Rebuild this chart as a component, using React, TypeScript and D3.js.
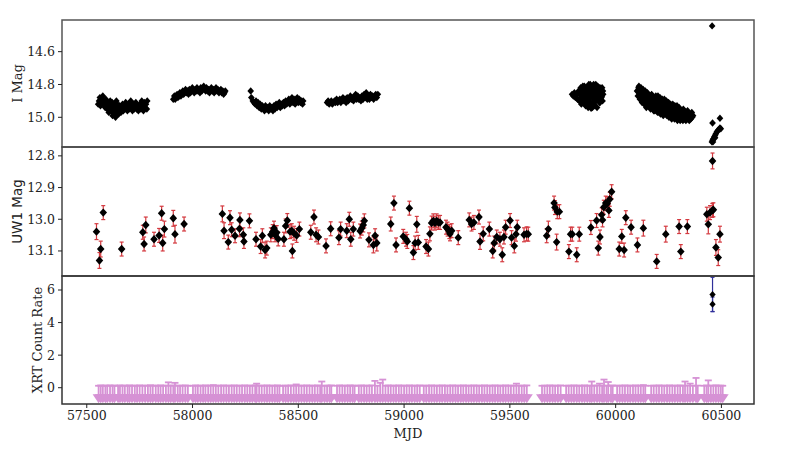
import React from "react";
import * as d3 from "d3";

// ---------- DATA ----------
// I-band photometry [MJD, mag]
const iSeason1: [number, number][] = [
  [57554, 14.92], [57558, 14.90], [57562, 14.88], [57565, 14.93], [57569, 14.89], [57572, 14.91], [57576, 14.87],
  [57580, 14.92], [57583, 14.90], [57587, 14.94], [57590, 14.89], [57594, 14.92], [57597, 14.95], [57601, 14.91],
  [57604, 14.97], [57608, 14.93], [57611, 14.90], [57615, 14.96], [57618, 14.94], [57622, 14.99], [57626, 14.92],
  [57629, 14.95], [57633, 14.97], [57636, 15.00], [57640, 14.94], [57644, 14.92], [57647, 14.96], [57651, 14.98],
  [57655, 14.93], [57658, 14.95], [57662, 14.97], [57666, 14.94], [57669, 14.92], [57673, 14.96], [57677, 14.93],
  [57680, 14.95], [57684, 14.91], [57688, 14.94], [57692, 14.96], [57696, 14.92], [57700, 14.95], [57704, 14.93],
  [57708, 14.90], [57712, 14.94], [57716, 14.96], [57720, 14.92], [57724, 14.95], [57728, 14.93], [57732, 14.91],
  [57736, 14.95], [57740, 14.93], [57744, 14.96], [57748, 14.94], [57752, 14.92], [57756, 14.95], [57760, 14.90],
  [57764, 14.93], [57768, 14.96], [57772, 14.91], [57776, 14.94], [57780, 14.92], [57784, 14.95], [57786, 14.90],
  [57600, 14.93], [57612, 14.95], [57620, 14.96], [57630, 14.93], [57638, 14.96], [57645, 14.98], [57650, 14.95],
  [57660, 14.96], [57670, 14.95], [57690, 14.95], [57715, 14.94], [57730, 14.94], [57745, 14.94], [57575, 14.90],
  [57565, 14.91], [57620, 14.91], [57640, 14.90], [57625, 14.97], [57655, 14.97], [57605, 14.95],
];
const iSeason2: [number, number][] = [
  [57909, 14.89], [57914, 14.87], [57918, 14.89], [57922, 14.88], [57927, 14.86], [57931, 14.88], [57936, 14.87],
  [57940, 14.85], [57945, 14.87], [57949, 14.86], [57954, 14.84], [57958, 14.86], [57963, 14.85], [57967, 14.83],
  [57972, 14.85], [57976, 14.84], [57981, 14.86], [57985, 14.83], [57990, 14.85], [57994, 14.84], [57999, 14.82],
  [58003, 14.84], [58008, 14.85], [58012, 14.83], [58017, 14.84], [58021, 14.82], [58026, 14.84], [58030, 14.83],
  [58035, 14.85], [58039, 14.82], [58044, 14.84], [58048, 14.83], [58053, 14.81], [58057, 14.83], [58062, 14.84],
  [58066, 14.82], [58071, 14.84], [58075, 14.83], [58080, 14.85], [58084, 14.83], [58089, 14.82], [58093, 14.84],
  [58098, 14.83], [58102, 14.85], [58107, 14.84], [58111, 14.82], [58116, 14.84], [58120, 14.83], [58125, 14.85],
  [58129, 14.84], [58134, 14.83], [58138, 14.85], [58143, 14.84], [58147, 14.86], [58151, 14.85], [58155, 14.84],
];
const iSeason3: [number, number][] = [
  [58275, 14.84], [58278, 14.88], [58285, 14.90], [58290, 14.91], [58296, 14.92], [58300, 14.90], [58305, 14.93],
  [58310, 14.91], [58315, 14.94], [58320, 14.92], [58325, 14.95], [58330, 14.93], [58335, 14.94], [58340, 14.96],
  [58345, 14.93], [58350, 14.95], [58355, 14.94], [58360, 14.96], [58365, 14.93], [58370, 14.95], [58375, 14.94],
  [58380, 14.96], [58385, 14.93], [58390, 14.95], [58395, 14.92], [58400, 14.94], [58405, 14.93], [58410, 14.91],
  [58415, 14.94], [58420, 14.92], [58425, 14.93], [58430, 14.91], [58435, 14.93], [58440, 14.90], [58445, 14.92],
  [58450, 14.91], [58455, 14.89], [58460, 14.92], [58465, 14.90], [58470, 14.88], [58475, 14.91], [58480, 14.89],
  [58485, 14.92], [58490, 14.90], [58495, 14.88], [58500, 14.91], [58505, 14.89], [58510, 14.91], [58515, 14.90],
  [58520, 14.92], [58523, 14.90],
];
const iSeason4: [number, number][] = [
  [58636, 14.91], [58641, 14.90], [58646, 14.92], [58651, 14.91], [58656, 14.90], [58661, 14.92], [58666, 14.91],
  [58671, 14.90], [58676, 14.91], [58681, 14.89], [58686, 14.91], [58691, 14.90], [58696, 14.89], [58701, 14.91],
  [58706, 14.90], [58711, 14.88], [58716, 14.90], [58721, 14.89], [58726, 14.91], [58731, 14.88], [58736, 14.90],
  [58741, 14.89], [58746, 14.87], [58751, 14.89], [58756, 14.88], [58761, 14.90], [58766, 14.88], [58771, 14.86],
  [58776, 14.89], [58781, 14.87], [58786, 14.89], [58791, 14.88], [58796, 14.90], [58801, 14.87], [58806, 14.89],
  [58811, 14.86], [58816, 14.88], [58821, 14.85], [58826, 14.89], [58831, 14.87], [58836, 14.89], [58841, 14.86],
  [58846, 14.88], [58851, 14.87], [58856, 14.89], [58861, 14.88], [58866, 14.86], [58871, 14.88], [58876, 14.86],
];
const iSeason5: [number, number][] = [
  [59794, 14.86], [59800, 14.87], [59805, 14.85], [59810, 14.88], [59815, 14.86], [59820, 14.89], [59825, 14.84],
  [59828, 14.90], [59832, 14.86], [59835, 14.82], [59838, 14.92], [59842, 14.88], [59845, 14.84], [59848, 14.91],
  [59852, 14.81], [59855, 14.87], [59858, 14.93], [59861, 14.85], [59864, 14.89], [59867, 14.82], [59870, 14.94],
  [59873, 14.80], [59876, 14.87], [59879, 14.91], [59882, 14.84], [59885, 14.93], [59888, 14.81], [59891, 14.88],
  [59894, 14.86], [59897, 14.92], [59900, 14.83], [59903, 14.90], [59906, 14.80], [59909, 14.87], [59912, 14.94],
  [59915, 14.85], [59918, 14.89], [59921, 14.82], [59924, 14.91], [59927, 14.86], [59930, 14.84], [59933, 14.88],
  [59936, 14.82], [59938, 14.90], [59941, 14.86], [59884, 14.945], [59860, 14.83], [59896, 14.80],
  [59830, 14.84], [59836, 14.87], [59842, 14.83], [59848, 14.86], [59854, 14.89], [59858, 14.84], [59863, 14.87],
  [59869, 14.90], [59872, 14.85], [59878, 14.83], [59881, 14.88], [59886, 14.86], [59890, 14.91], [59893, 14.83],
  [59898, 14.88], [59902, 14.85], [59907, 14.90], [59910, 14.83], [59914, 14.88], [59919, 14.85], [59923, 14.87],
  [59926, 14.82], [59929, 14.89], [59932, 14.85], [59935, 14.87], [59940, 14.84], [59866, 14.92], [59876, 14.93],
  [59890, 14.94], [59902, 14.93], [59850, 14.90], [59845, 14.81], [59880, 14.80], [59915, 14.81], [59926, 14.91],
];
const iSeason6: [number, number][] = [
  [60101, 14.84], [60105, 14.87], [60108, 14.82], [60110, 14.81], [60112, 14.85], [60115, 14.89], [60118, 14.83],
  [60122, 14.87], [60125, 14.91], [60128, 14.85], [60132, 14.88], [60135, 14.92], [60138, 14.86], [60142, 14.90],
  [60145, 14.94], [60148, 14.87], [60150, 14.85], [60152, 14.91], [60155, 14.88], [60158, 14.93], [60162, 14.89],
  [60165, 14.95], [60168, 14.87], [60170, 14.86], [60172, 14.92], [60175, 14.90], [60178, 14.94], [60182, 14.88],
  [60185, 14.96], [60188, 14.91], [60190, 14.87], [60192, 14.93], [60195, 14.89], [60198, 14.97], [60202, 14.92],
  [60205, 14.95], [60208, 14.90], [60210, 14.88], [60212, 14.98], [60215, 14.93], [60218, 14.96], [60222, 14.91],
  [60225, 14.99], [60228, 14.94], [60230, 14.89], [60232, 14.97], [60235, 14.92], [60238, 14.95], [60242, 14.99],
  [60245, 14.93], [60248, 14.97], [60250, 14.91], [60252, 15.00], [60255, 14.94], [60258, 14.98], [60262, 14.95],
  [60265, 15.01], [60268, 14.96], [60270, 14.92], [60272, 14.99], [60275, 14.95], [60278, 15.01], [60282, 14.97],
  [60285, 15.00], [60288, 14.95], [60290, 14.93], [60292, 15.02], [60295, 14.98], [60298, 15.00], [60302, 14.96],
  [60305, 15.02], [60308, 14.98], [60312, 15.01], [60315, 14.97], [60318, 15.02], [60322, 14.99], [60325, 15.01],
  [60328, 14.97], [60332, 15.02], [60335, 14.99], [60338, 15.01], [60342, 14.98], [60345, 15.00], [60348, 15.02],
  [60352, 14.99], [60355, 15.01], [60358, 14.98], [60362, 15.00], [60366, 14.99],
  [60115, 14.85], [60125, 14.88], [60135, 14.89], [60145, 14.91], [60150, 14.89], [60160, 14.91], [60165, 14.92],
  [60175, 14.93], [60180, 14.91], [60190, 14.95], [60195, 14.93], [60200, 14.94], [60205, 14.97], [60215, 14.95],
  [60220, 14.94], [60225, 14.96], [60232, 14.95], [60240, 14.97], [60245, 14.96], [60250, 14.98], [60260, 14.97],
  [60265, 14.98], [60270, 14.99], [60280, 14.99], [60285, 14.98], [60295, 15.00], [60300, 14.99], [60310, 15.00],
  [60320, 15.00], [60330, 15.00], [60340, 15.00], [60350, 15.01], [60180, 14.96], [60200, 14.87], [60220, 14.89],
  [60240, 14.90], [60260, 14.92], [60280, 14.93], [60300, 14.94], [60320, 14.95], [60340, 14.96], [60360, 14.97],
  [60155, 14.86], [60140, 14.84], [60130, 14.83], [60120, 14.82],
];
const iSeason7: [number, number][] = [
  [60456, 14.443], [60458, 15.035], [60493, 15.006], [60455, 15.15], [60458, 15.14], [60462, 15.13], [60466, 15.12],
  [60470, 15.11], [60474, 15.10], [60478, 15.09], [60483, 15.08], [60488, 15.075], [60493, 15.065], [60497, 15.07],
  [60460, 15.15], [60470, 15.125],
];

// UVOT UW1 photometry [MJD, mag, err]
const uw1: [number, number, number][] = [
  [57546, 13.039, 0.025], [57566, 13.094, 0.025], [57560, 13.130, 0.025], [57578, 12.979, 0.022], [57665, 13.094, 0.022],
  [57765, 13.041, 0.022], [57771, 13.078, 0.022], [57779, 13.018, 0.025], [57818, 13.063, 0.022], [57842, 13.051, 0.022],
  [57854, 12.981, 0.022], [57859, 13.075, 0.025], [57867, 13.031, 0.025], [57909, 12.997, 0.025], [57917, 13.047, 0.028],
  [57960, 13.015, 0.022], [58141, 12.983, 0.025], [58149, 13.036, 0.025], [58169, 13.072, 0.022], [58177, 12.995, 0.022],
  [58185, 13.033, 0.022], [58201, 13.052, 0.022], [58222, 13.030, 0.025], [58224, 13.002, 0.022], [58243, 13.070, 0.022],
  [58240, 13.049, 0.022], [58269, 13.005, 0.022], [58300, 13.063, 0.022], [58322, 13.086, 0.022], [58330, 13.052, 0.022],
  [58343, 13.097, 0.025], [58351, 13.091, 0.022], [58370, 13.049, 0.022], [58379, 13.039, 0.022], [58385, 13.028, 0.022],
  [58390, 13.049, 0.022], [58398, 13.042, 0.022], [58405, 13.062, 0.022], [58432, 13.063, 0.022], [58440, 13.021, 0.022],
  [58448, 13.004, 0.022], [58461, 13.039, 0.022], [58469, 13.036, 0.022], [58472, 13.100, 0.022], [58480, 13.044, 0.022],
  [58492, 13.051, 0.022], [58505, 13.031, 0.022], [58559, 13.041, 0.022], [58574, 12.993, 0.022], [58584, 13.049, 0.022],
  [58595, 13.056, 0.022], [58631, 13.084, 0.022], [58653, 13.030, 0.022], [58692, 13.058, 0.022], [58700, 13.031, 0.022],
  [58729, 13.036, 0.022], [58741, 13.000, 0.022], [58748, 13.063, 0.022], [58760, 13.031, 0.022], [58792, 13.037, 0.022],
  [58800, 13.028, 0.022], [58807, 13.018, 0.022], [58812, 13.005, 0.022], [58834, 13.065, 0.022], [58855, 13.081, 0.025],
  [58863, 13.052, 0.022], [58871, 13.075, 0.025], [58937, 13.015, 0.022], [58952, 12.949, 0.022], [58962, 13.081, 0.022],
  [58996, 13.054, 0.022], [59009, 13.063, 0.022], [59025, 12.965, 0.022], [59015, 13.070, 0.022], [59044, 13.105, 0.022],
  [59052, 13.075, 0.022], [59060, 13.016, 0.025], [59067, 13.073, 0.022], [59104, 13.086, 0.022], [59115, 13.094, 0.022],
  [59122, 13.046, 0.022], [59130, 13.012, 0.022], [59138, 13.005, 0.022], [59146, 13.012, 0.022], [59154, 13.005, 0.022],
  [59162, 13.010, 0.022], [59170, 13.010, 0.022], [59198, 13.025, 0.022], [59206, 13.031, 0.022], [59214, 13.039, 0.022],
  [59225, 13.036, 0.022], [59217, 13.046, 0.022], [59256, 13.058, 0.022], [59308, 13.002, 0.022], [59319, 13.015, 0.022],
  [59330, 13.010, 0.022], [59354, 12.993, 0.022], [59359, 13.070, 0.025], [59374, 13.046, 0.022], [59403, 13.031, 0.022],
  [59419, 13.100, 0.022], [59426, 13.075, 0.022], [59438, 13.056, 0.022], [59453, 13.063, 0.022], [59464, 13.112, 0.022],
  [59472, 13.056, 0.022], [59480, 13.025, 0.022], [59501, 13.004, 0.022], [59508, 13.058, 0.022], [59521, 13.084, 0.022],
  [59529, 13.047, 0.022], [59535, 13.025, 0.022], [59567, 13.049, 0.022], [59579, 13.046, 0.022], [59587, 13.047, 0.022],
  [59674, 13.052, 0.022], [59682, 13.031, 0.025], [59721, 13.072, 0.025], [59709, 12.949, 0.022], [59713, 12.963, 0.022],
  [59724, 12.976, 0.022], [59734, 12.976, 0.022], [59779, 13.102, 0.022], [59787, 13.047, 0.022], [59795, 13.047, 0.022],
  [59816, 13.112, 0.022], [59828, 13.047, 0.022], [59883, 13.026, 0.022], [59910, 13.004, 0.022], [59918, 13.091, 0.022],
  [59926, 13.056, 0.022], [59934, 12.986, 0.022], [59938, 13.002, 0.022], [59944, 12.962, 0.022], [59953, 12.949, 0.022],
  [59960, 12.951, 0.022], [59968, 12.972, 0.022], [59972, 12.937, 0.022], [59981, 12.913, 0.022], [60017, 13.094, 0.022],
  [60029, 13.054, 0.022], [60040, 13.097, 0.022], [60048, 12.995, 0.022], [60073, 13.025, 0.022], [60103, 13.081, 0.022],
  [60131, 13.028, 0.025], [60194, 13.133, 0.022], [60237, 13.047, 0.025], [60300, 13.023, 0.022], [60308, 13.102, 0.022],
  [60339, 13.023, 0.022], [60431, 12.984, 0.022], [60438, 13.016, 0.03], [60446, 12.979, 0.022], [60457, 12.972, 0.022],
  [60462, 12.970, 0.022], [60458, 12.816, 0.025], [60474, 13.089, 0.025], [60485, 13.121, 0.025], [60493, 13.047, 0.025],
];

// XRT detections [MJD, rate, err]
const xrtDet: [number, number, number][] = [
  [60458, 5.73, 1.05], [60458, 5.12, 0.45],
];

// XRT upper limits [MJD, limit]
const xrtUL: [number, number][] = [
  [57556, 0.12], [57566, 0.14], [57576, 0.12], [57588, 0.13], [57597, 0.12], [57610, 0.14], [57622, 0.12], [57631, 0.13],
  [57648, 0.12], [57657, 0.14], [57669, 0.12], [57680, 0.13], [57693, 0.12], [57702, 0.14], [57714, 0.12], [57727, 0.13],
  [57738, 0.12], [57750, 0.14], [57763, 0.12], [57776, 0.13], [57789, 0.12], [57801, 0.15], [57812, 0.12], [57826, 0.13],
  [57838, 0.12], [57849, 0.14], [57861, 0.12], [57874, 0.13], [57886, 0.33], [57897, 0.12], [57909, 0.14], [57917, 0.30],
  [57930, 0.12], [57941, 0.13], [57953, 0.12], [57966, 0.14], [57978, 0.12],
  [58002, 0.12], [58014, 0.14], [58025, 0.12], [58038, 0.13], [58050, 0.12], [58061, 0.14], [58074, 0.12], [58086, 0.13],
  [58098, 0.16], [58110, 0.12], [58122, 0.13], [58135, 0.12], [58147, 0.14], [58160, 0.12], [58172, 0.13], [58185, 0.12],
  [58197, 0.14], [58209, 0.12], [58222, 0.13], [58234, 0.12], [58247, 0.14], [58259, 0.12], [58271, 0.13], [58283, 0.12],
  [58296, 0.14], [58303, 0.25], [58315, 0.12], [58327, 0.13], [58340, 0.12], [58352, 0.14], [58364, 0.12], [58377, 0.13],
  [58389, 0.12], [58401, 0.14], [58411, 0.12],
  [58428, 0.12], [58440, 0.13], [58452, 0.12], [58465, 0.14], [58478, 0.12], [58490, 0.20], [58502, 0.12], [58515, 0.13],
  [58528, 0.12], [58540, 0.14], [58553, 0.12], [58566, 0.13], [58578, 0.12], [58591, 0.14], [58603, 0.12], [58611, 0.38],
  [58624, 0.12], [58636, 0.13], [58648, 0.12], [58656, 0.14],
  [58683, 0.12], [58695, 0.14], [58708, 0.12], [58720, 0.13], [58733, 0.12], [58745, 0.14], [58757, 0.12], [58766, 0.13],
  [58786, 0.12], [58798, 0.14], [58811, 0.12], [58823, 0.13], [58836, 0.12], [58848, 0.14], [58862, 0.42], [58874, 0.12],
  [58887, 0.30], [58899, 0.50], [58912, 0.12], [58925, 0.14], [58937, 0.12], [58950, 0.13], [58962, 0.12], [58975, 0.14],
  [58987, 0.12], [59000, 0.13], [59012, 0.12], [59025, 0.14], [59037, 0.12], [59050, 0.13], [59062, 0.12], [59074, 0.14],
  [59093, 0.12], [59105, 0.13], [59118, 0.12], [59130, 0.14], [59143, 0.12], [59155, 0.13], [59168, 0.12], [59180, 0.14],
  [59193, 0.12], [59205, 0.13], [59218, 0.12], [59230, 0.14], [59243, 0.12], [59255, 0.13], [59268, 0.12], [59280, 0.14],
  [59293, 0.12], [59305, 0.13], [59318, 0.12], [59330, 0.14], [59343, 0.12], [59355, 0.13], [59368, 0.12], [59380, 0.14],
  [59393, 0.12], [59405, 0.13], [59418, 0.12], [59430, 0.14], [59443, 0.12], [59455, 0.13], [59468, 0.12], [59480, 0.14],
  [59493, 0.12], [59505, 0.13], [59518, 0.12], [59531, 0.25], [59543, 0.12], [59556, 0.13], [59568, 0.12], [59580, 0.14],
  [59652, 0.12], [59664, 0.13], [59677, 0.12], [59689, 0.14], [59702, 0.12], [59714, 0.13], [59727, 0.12], [59740, 0.14],
  [59766, 0.12], [59778, 0.13], [59791, 0.12], [59803, 0.14], [59816, 0.12], [59828, 0.13], [59841, 0.12], [59853, 0.14],
  [59866, 0.12], [59878, 0.13], [59887, 0.38], [59899, 0.12], [59912, 0.14], [59924, 0.25], [59936, 0.12], [59945, 0.50],
  [59957, 0.13], [59965, 0.35], [59978, 0.12], [59986, 0.14],
  [60007, 0.12], [60019, 0.13], [60032, 0.12], [60044, 0.14], [60057, 0.12], [60069, 0.13], [60082, 0.12], [60094, 0.14],
  [60107, 0.12], [60119, 0.13], [60131, 0.16], [60140, 0.12],
  [60168, 0.12], [60180, 0.13], [60193, 0.12], [60205, 0.14], [60218, 0.12], [60230, 0.13], [60243, 0.12], [60255, 0.14],
  [60268, 0.12], [60280, 0.13], [60293, 0.12], [60305, 0.14], [60318, 0.12], [60328, 0.38], [60340, 0.13], [60352, 0.25],
  [60365, 0.12], [60380, 0.60], [60388, 0.13],
  [60419, 0.12], [60430, 0.14], [60438, 0.45], [60450, 0.12], [60462, 0.13], [60474, 0.14], [60486, 0.12], [60497, 0.13],
  [60506, 0.12],
];

const xTicks = [57500, 58000, 58500, 59000, 59500, 60000, 60500];
const iTicks = [14.6, 14.8, 15.0];
const uwTicks = [12.8, 12.9, 13.0, 13.1];
const xrtTicks = [0, 2, 4, 6];

// ---------- LAYOUT ----------
const W = 800;
const H = 450;
const L = 62;
const R = 754;
const P1 = [20, 147];
const P2 = [147, 276];
const P3 = [276, 404];
const SERIF = "'DejaVu Serif', serif";
const SANS = "'DejaVu Sans', sans-serif";

const diamond = (r: number) => `M0,${-r}L${r * 0.9},0L0,${r}L${-r * 0.9},0Z`;

export default function App() {
  const x = d3.scaleLinear().domain([57383, 60654]).range([L, R]);
  const yI = d3.scaleLinear().domain([14.407, 15.181]).range([P1[0], P1[1]]);
  const yU = d3.scaleLinear().domain([12.772, 13.179]).range([P2[0], P2[1]]);
  const yX = d3.scaleLinear().domain([-1.0, 6.86]).range([P3[1], P3[0]]);

  const iAll = [...iSeason1, ...iSeason2, ...iSeason3, ...iSeason4, ...iSeason5, ...iSeason6, ...iSeason7];
  const ulColor = "#d692d5";
  const errRed = "#d4393f";

  const yTicks = (scale: d3.ScaleLinear<number, number>, ticks: number[], fmt: (v: number) => string) =>
    ticks.map((t) => (
      <g key={t} transform={`translate(0,${scale(t)})`}>
        <line x1={L - 4} x2={L} stroke="#222" strokeWidth={1} />
        <text x={L - 7} dy="0.35em" textAnchor="end" fontFamily={SERIF} fontSize={12.5} fill="#222">
          {fmt(t)}
        </text>
      </g>
    ));

  return (
    <svg width={W} height={H} style={{ position: "absolute", left: 0, top: 0, background: "#fff" }}>
      <defs>
        <clipPath id="c1"><rect x={L} y={P1[0]} width={R - L} height={P1[1] - P1[0]} /></clipPath>
        <clipPath id="c2"><rect x={L} y={P2[0]} width={R - L} height={P2[1] - P2[0]} /></clipPath>
        <clipPath id="c3"><rect x={L} y={P3[0]} width={R - L} height={P3[1] - P3[0]} /></clipPath>
      </defs>
      <rect x={0} y={0} width={W} height={H} fill="#fff" />

      {/* Panel 1: I mag */}
      <g clipPath="url(#c1)">
        {iAll.map(([m, v], i) => (
          <path key={i} d={diamond(3.7)} transform={`translate(${x(m)},${yI(v)})`} fill="#000" />
        ))}
      </g>

      {/* Panel 2: UW1 */}
      <g clipPath="url(#c2)">
        {uw1.map(([m, v, e], i) => {
          const cx = x(m);
          const y0 = yU(v - e);
          const y1 = yU(v + e);
          return (
            <g key={i} stroke={errRed} strokeWidth={1.2}>
              <line x1={cx} x2={cx} y1={y0} y2={y1} />
              <line x1={cx - 2} x2={cx + 2} y1={y0} y2={y0} />
              <line x1={cx - 2} x2={cx + 2} y1={y1} y2={y1} />
            </g>
          );
        })}
        {uw1.map(([m, v], i) => (
          <path key={i} d={diamond(4.2)} transform={`translate(${x(m)},${yU(v)})`} fill="#000" />
        ))}
      </g>

      {/* Panel 3: XRT */}
      <g clipPath="url(#c3)">
        {xrtUL.map(([m, lim], i) => {
          const cx = x(m);
          const yt = yX(lim);
          const yb = yX(-0.5);
          return (
            <g key={i} stroke={ulColor} strokeWidth={1.8}>
              <line x1={cx} x2={cx} y1={yt} y2={yb} />
              <line x1={cx - 3.5} x2={cx + 3.5} y1={yt} y2={yt} />
            </g>
          );
        })}
        {xrtUL.map(([m], i) => {
          const cx = x(m);
          const yb = yX(-0.4);
          const ya = yX(-0.95);
          return <path key={i} d={`M${cx - 6},${yb}L${cx + 6},${yb}L${cx},${ya}Z`} fill={ulColor} />;
        })}
        {xrtDet.map(([m, v, e], i) => {
          const cx = x(m);
          return (
            <g key={i} stroke="#2f2f9a" strokeWidth={1.2}>
              <line x1={cx} x2={cx} y1={yX(v - e)} y2={yX(v + e)} />
              <line x1={cx - 2} x2={cx + 2} y1={yX(v - e)} y2={yX(v - e)} />
              <line x1={cx - 2} x2={cx + 2} y1={yX(v + e)} y2={yX(v + e)} />
            </g>
          );
        })}
        {xrtDet.map(([m, v], i) => (
          <path key={i} d={diamond(3.5)} transform={`translate(${x(m)},${yX(v)})`} fill="#000" />
        ))}
      </g>

      {/* Frames */}
      <rect x={L} y={P1[0]} width={R - L} height={P1[1] - P1[0]} fill="none" stroke="#555" strokeWidth={1.5} />
      <rect x={L} y={P2[0]} width={R - L} height={P2[1] - P2[0]} fill="none" stroke="#444" strokeWidth={1.5} />
      <rect x={L} y={P3[0]} width={R - L} height={P3[1] - P3[0]} fill="none" stroke="#333" strokeWidth={1.5} />

      {/* Y ticks */}
      {yTicks(yI, iTicks, (v) => v.toFixed(1))}
      {yTicks(yU, uwTicks, (v) => v.toFixed(1))}
      {yTicks(yX, xrtTicks, (v) => String(v))}

      {/* X ticks */}
      {xTicks.map((t) => (
        <g key={t} transform={`translate(${x(t)},${P3[1]})`}>
          <line y1={0} y2={4} stroke="#222" strokeWidth={1} />
          <text y={16} textAnchor="middle" fontFamily={SERIF} fontSize={12.5} fill="#222">
            {t}
          </text>
        </g>
      ))}

      {/* Axis labels */}
      <text transform={`translate(22,${(P1[0] + P1[1]) / 2}) rotate(-90)`} textAnchor="middle" fontFamily={SERIF} fontSize={13} fill="#222">
        I Mag
      </text>
      <text transform={`translate(22,${(P2[0] + P2[1]) / 2}) rotate(-90)`} textAnchor="middle" fontFamily={SANS} fontSize={13.5} fill="#222">
        UW1 Mag
      </text>
      <text transform={`translate(42,${(P3[0] + P3[1]) / 2}) rotate(-90)`} textAnchor="middle" fontFamily={SERIF} fontSize={13} fill="#222">
        XRT Count Rate
      </text>
      <text x={(L + R) / 2} y={438} textAnchor="middle" fontFamily={SERIF} fontSize={13} fill="#222">
        MJD
      </text>
    </svg>
  );
}
